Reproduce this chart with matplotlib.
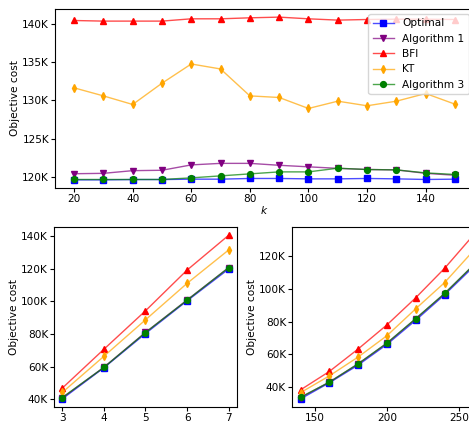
import matplotlib
matplotlib.use("Agg")
import matplotlib.pyplot as plt
from matplotlib.colors import to_rgba
from matplotlib.ticker import FuncFormatter

# ---- data (objective cost) ----
k_values = [20, 30, 40, 50, 60, 70, 80, 90, 100, 110, 120, 130, 140, 150]
k_optimal = [119650, 119650, 119690, 119690, 119740, 119740, 119830, 119830,
             119780, 119780, 119830, 119780, 119700, 119740]
k_alg1 = [120450, 120500, 120850, 120900, 121600, 121800, 121800, 121550,
          121350, 121150, 121000, 120950, 120500, 120250]
k_bfi = [140430, 140350, 140350, 140350, 140650, 140650, 140780, 140870,
         140650, 140480, 140560, 140600, 140600, 140560]
k_kt = [131650, 130600, 129480, 132250, 134760, 134110, 130600, 130390,
        128960, 129910, 129310, 129910, 130910, 129520]
k_alg3 = [119700, 119700, 119700, 119700, 119910, 120170, 120430, 120690,
          120690, 121170, 121000, 120950, 120560, 120350]

n_values = [3, 4, 5, 6, 7]
n_optimal = [40400, 59400, 80300, 100300, 119750]
n_alg1 = [41000, 59700, 81000, 100800, 120600]
n_bfi = [46950, 70700, 94200, 119100, 140400]
n_kt = [44300, 66400, 88700, 111000, 131400]
n_alg3 = [41200, 59600, 80900, 100700, 120600]

d_values = [140, 160, 180, 200, 220, 240, 260]
d_optimal = [32900, 42700, 53500, 66100, 80800, 96300, 113300]
d_alg1 = [33700, 43100, 54200, 66800, 81700, 97000, 114200]
d_bfi = [38400, 49600, 63300, 78000, 94500, 112400, 132600]
d_kt = [36700, 46900, 58400, 71400, 87800, 103700, 123100]
d_alg3 = [33900, 43100, 54300, 66900, 81800, 97100, 114300]

labels = ["Optimal", "Algorithm 1", "BFI", "KT", "Algorithm 3"]
colors = ["blue", "purple", "red", "orange", "green"]
markers = ["s", "v", "^", "d", "o"]

plt.rcParams.update({
    "font.size": 7.6,
    "xtick.major.size": 3,
    "ytick.major.size": 3,
    "xtick.major.pad": 1.2,
    "ytick.major.pad": 1.2,
    "axes.labelpad": 1.5,
})

fig = plt.figure(figsize=(4.69, 4.26), dpi=100)
ax_top = fig.add_axes([0.1173, 0.5587, 0.8934, 0.4202])
ax_n = fig.add_axes([0.1151, 0.0446, 0.3902, 0.4224])
ax_d = fig.add_axes([0.6226, 0.0446, 0.405, 0.4224])

kfmt = FuncFormatter(lambda v, pos: f"{int(round(v / 1000))}K")


def draw(ax, x, series):
    for ys, lab, col, mk in zip(series, labels, colors, markers):
        ax.plot(x, ys, color=to_rgba(col, 0.7), marker=mk, label=lab,
                markerfacecolor=col, linewidth=1.0, markersize=4.2)
    ax.yaxis.set_major_formatter(kfmt)
    ax.set_ylabel("Objective cost")


draw(ax_top, k_values, [k_optimal, k_alg1, k_bfi, k_kt, k_alg3])
ax_top.set_xlabel("$k$", labelpad=0)
ax_top.set_xticks([20, 40, 60, 80, 100, 120, 140])
ax_top.set_yticks([120000, 125000, 130000, 135000, 140000])
ax_top.legend(loc="upper right")

draw(ax_n, n_values, [n_optimal, n_alg1, n_bfi, n_kt, n_alg3])
ax_n.set_xlabel("$n$")
ax_n.set_xticks(n_values)
ax_n.set_yticks([40000, 60000, 80000, 100000, 120000, 140000])

draw(ax_d, d_values, [d_optimal, d_alg1, d_bfi, d_kt, d_alg3])
ax_d.set_xlabel("$d$")
ax_d.set_xticks([150, 200, 250])
ax_d.set_yticks([40000, 60000, 80000, 100000, 120000])

fig.savefig("out.png", dpi=100)
